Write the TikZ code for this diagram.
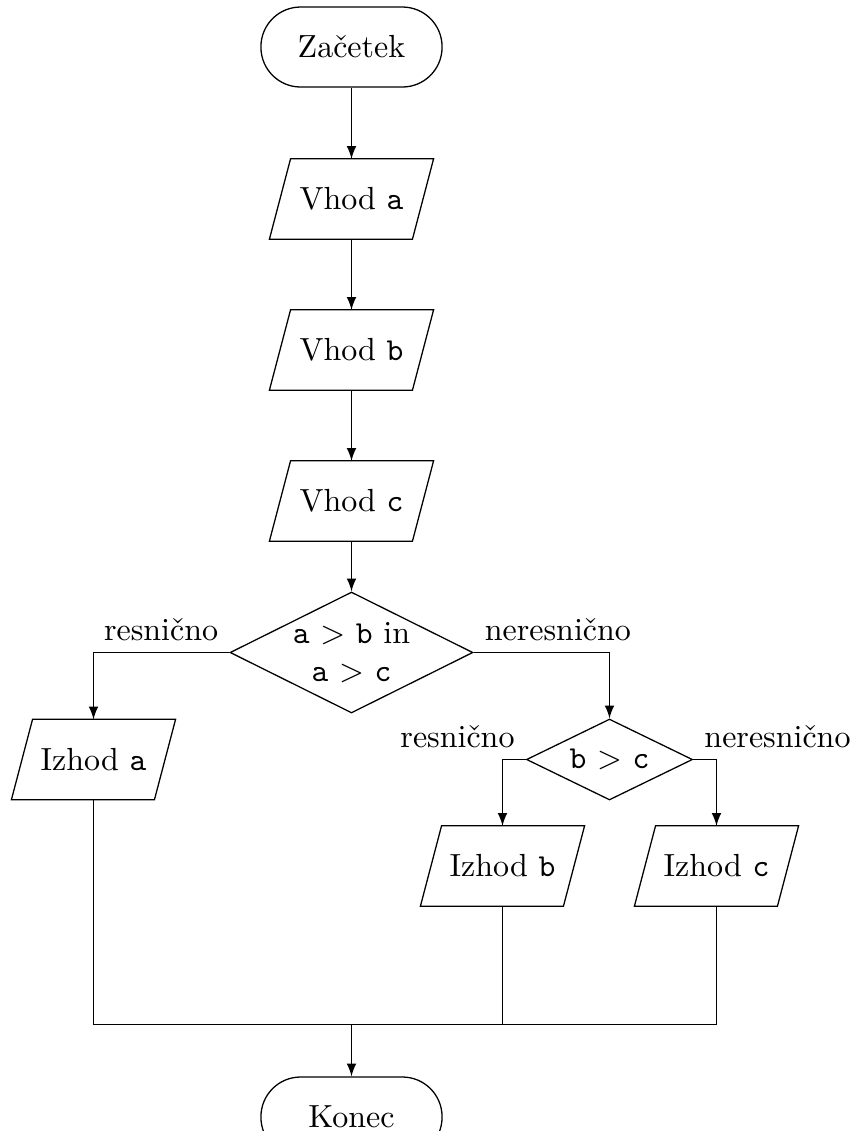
\documentclass[tikz,border=0pt]{standalone}
\usetikzlibrary{shapes.geometric}
\begin{document}
\begin{tikzpicture}[x=0.3125pt,y=-0.3125pt,
  terminal/.style={draw,rectangle,rounded corners=12.4pt,minimum width=56.6pt,minimum height=25pt,inner sep=0pt},
  io/.style={rectangle,minimum width=50.9pt,minimum height=24.7pt,inner sep=0pt,
    append after command={\pgfextra{\draw (\tikzlastnode.south west) -- ([xshift=-6.6pt]\tikzlastnode.south east) -- (\tikzlastnode.north east) -- ([xshift=6.6pt]\tikzlastnode.north west) -- cycle;}}},
  decision/.style={draw,diamond,shape aspect=2,inner sep=0pt,align=center},
  line/.style={draw},
  arrowline/.style={draw,-latex},
  lbl/.style={inner sep=3.33pt}]
\useasboundingbox (0,0) rectangle (850,1131);
\node[terminal] (zac) at (351.5,47) {Začetek};
\node[io] (va) at (351.5,199) {Vhod \texttt{a}};
\node[io] (vb) at (351.5,350) {Vhod \texttt{b}};
\node[io] (vc) at (351.5,501) {Vhod \texttt{c}};
\node[decision,minimum width=75.9pt,minimum height=37.8pt] (d1) at (351.5,652.5) {\texttt{a} $>$ \texttt{b} in\\ \texttt{a} $>$ \texttt{c}};
\node[io] (ia) at (93.5,759.5) {Izhod \texttt{a}};
\node[decision,minimum width=51.9pt,minimum height=25.3pt] (d2) at (609.5,759.5) {\texttt{b} $>$ \texttt{c}};
\node[io] (ib) at (502.5,866) {Izhod \texttt{b}};
\node[io] (ic) at (716.5,866) {Izhod \texttt{c}};
\coordinate (m) at (351.5,1024.5);
\node[terminal] (kon) at (351.5,1117) {Konec};

\node[lbl,above left] (l1) at (d1.west) {resnično};
\node[lbl,above right] (l2) at (d1.east) {neresnično};
\node[lbl,above left] (l3) at (d2.west) {resnično};
\node[lbl,above right] (l4) at (d2.east) {neresnično};

\path[arrowline] (zac) -- (va);
\path[arrowline] (va) -- (vb);
\path[arrowline] (vb) -- (vc);
\path[arrowline] (vc) -- (d1);
\path[arrowline] (d1.west) -| (ia);
\path[arrowline] (d1.east) -| (d2);
\path[arrowline] (d2.west) -| (ib);
\path[arrowline] (d2.east) -| (ic);
\path[line] (ia) |- (m);
\path[line] (ib) |- (m);
\path[line] (ic) |- (m);
\path[arrowline] (m) -- (kon);
\end{tikzpicture}
\end{document}
